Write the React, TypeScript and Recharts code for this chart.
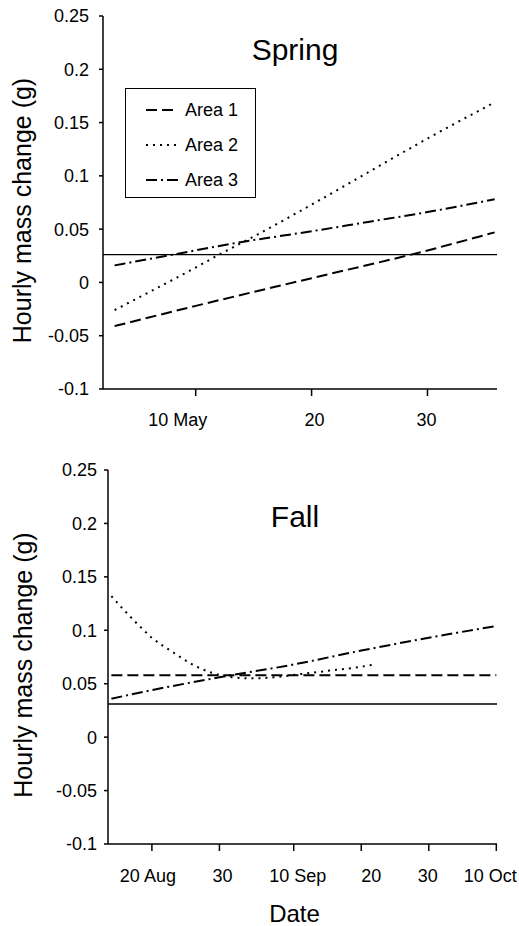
import React from "react";
import { LineChart, Line, XAxis, YAxis, ReferenceLine, Legend, Label } from "recharts";

const FONT = "'Liberation Sans', Arial, sans-serif";

const yTicks = [-0.1, -0.05, 0, 0.05, 0.1, 0.15, 0.2, 0.25];
const seriesNames = ["Area 1", "Area 2", "Area 3"];

// spring: x = day of May
const springTickDays = [10, 20, 30];
const springTickLabels = ["10 May", "20", "30"];
const springArea1Days = [3, 10, 20, 30, 35.8];
const springArea1 = [-0.041, -0.022, 0.004, 0.03, 0.047];
const springArea2Days = [3, 6, 10, 12, 15, 20, 25, 30, 35.8];
const springArea2 = [-0.026, -0.009, 0.014, 0.026, 0.043, 0.073, 0.104, 0.135, 0.169];
const springArea3Days = [3, 8, 14, 20, 25, 30, 35.8];
const springArea3 = [0.016, 0.026, 0.038, 0.048, 0.057, 0.066, 0.078];
const springThreshold = 0.026;

// fall: x = days since 31 Jul
const fallTickDays = [20, 30, 41, 51, 61, 71];
const fallTickLabels = ["20 Aug", "30", "10 Sep", "20", "30", "10 Oct"];
const fallArea1Days = [14, 71];
const fallArea1 = [0.058, 0.058];
const fallArea2Days = [14, 16, 18, 20, 23, 26, 29, 32, 35, 38, 42, 46, 50, 53];
const fallArea2 = [0.132, 0.118, 0.105, 0.093, 0.08, 0.068, 0.06, 0.056, 0.055, 0.056, 0.059, 0.062, 0.065, 0.068];
const fallArea3Days = [14, 20, 30, 41, 51, 61, 71];
const fallArea3 = [0.036, 0.044, 0.056, 0.068, 0.081, 0.093, 0.104];
const fallThreshold = 0.031;

// styling
const dashes = ["11 5", "2 5", "11 4 2 4"];
const springLabelNudge = [-18, 3, -1];
const fallLabelNudge = [-4, 3, 4, 10, -1, -6];

const toPoints = (xs: number[], ys: number[]) => xs.map((x, i) => ({ x, v: ys[i] }));

function LegendBox() {
  return (
    <div
      style={{
        width: 129,
        height: 108,
        border: "1.5px solid #000",
        background: "#fff",
        fontFamily: FONT,
        fontSize: 18,
        color: "#000",
        position: "relative",
      }}
    >
      {seriesNames.map((name, i) => (
        <div
          key={name}
          style={{
            position: "absolute",
            left: 20,
            top: 8 + i * 35,
            height: 26,
            display: "flex",
            alignItems: "center",
          }}
        >
          <svg width={32} height={4}>
            <line x1={0} y1={2} x2={32} y2={2} stroke="#000" strokeWidth={2} strokeDasharray={dashes[i]} />
          </svg>
          <span style={{ marginLeft: 7 }}>{name}</span>
        </div>
      ))}
    </div>
  );
}

function DateTick(props: any) {
  const { x, y, payload, days, labels, nudge } = props;
  const i = days.indexOf(payload.value);
  return (
    <text
      x={x + (nudge[i] ?? 0)}
      y={y}
      dy="0.71em"
      textAnchor="middle"
      fill="#000"
      fontSize={18}
      fontFamily={FONT}
    >
      {labels[i]}
    </text>
  );
}

interface PanelProps {
  title: string;
  height: number;
  top: number;
  marginTop: number;
  titleTop: number;
  yAxisWidth: number;
  xAxisHeight: number;
  domain: [number, number];
  tickDays: number[];
  tickLabels: string[];
  nudge: number[];
  series: { days: number[]; values: number[] }[];
  threshold: number;
  showLegend?: boolean;
  xTitle?: string;
  yTickMargin: number;
  xTickMargin: number;
  labelDx: number;
}

function Panel(p: PanelProps) {
  return (
    <div style={{ position: "absolute", left: 0, top: p.top, width: 519, height: p.height }}>
      <LineChart width={519} height={p.height} margin={{ top: p.marginTop, right: 22, bottom: 0, left: 0 }}>
        <XAxis
          dataKey="x"
          type="number"
          domain={p.domain}
          ticks={p.tickDays}
          interval={0}
          height={p.xAxisHeight}
          allowDataOverflow
          stroke="#000"
          strokeWidth={1.5}
          tickSize={7}
          tickMargin={p.xTickMargin}
          tick={(tp: any) => (
            <DateTick {...tp} days={p.tickDays} labels={p.tickLabels} nudge={p.nudge} />
          )}
        >
          {p.xTitle && (
            <Label
              value={p.xTitle}
              position="center"
              dx={-8}
              dy={28}
              style={{ fontSize: 24, fill: "#000", fontFamily: FONT }}
            />
          )}
        </XAxis>
        <YAxis
          type="number"
          domain={[-0.1, 0.25]}
          ticks={yTicks}
          interval={0}
          width={p.yAxisWidth}
          stroke="#000"
          strokeWidth={1.5}
          tickSize={4}
          tickMargin={p.yTickMargin}
          tick={{ fill: "#000", fontSize: 18, fontFamily: FONT }}
        >
          <Label
            value="Hourly mass change (g)"
            angle={-90}
            position="center"
            dx={p.labelDx}
            dy={8}
            style={{ fontSize: 25, fill: "#000", fontFamily: FONT, textAnchor: "middle" }}
          />
        </YAxis>
        <ReferenceLine y={p.threshold} stroke="#000" strokeWidth={1.3} />
        {p.series.map((s, i) => (
          <Line
            key={seriesNames[i]}
            name={seriesNames[i]}
            data={toPoints(s.days, s.values)}
            dataKey="v"
            type="monotone"
            stroke="#000"
            strokeWidth={2}
            strokeDasharray={dashes[i]}
            dot={false}
            activeDot={false}
            isAnimationActive={false}
          />
        ))}
        {p.showLegend && (
          <Legend
            layout="vertical"
            align="center"
            verticalAlign="middle"
            wrapperStyle={{ left: 125, top: 88, width: 131, height: 110 }}
            content={() => <LegendBox />}
          />
        )}
      </LineChart>
      <div
        style={{
          position: "absolute",
          left: 0,
          width: 590,
          top: p.titleTop,
          textAlign: "center",
          fontFamily: FONT,
          fontSize: 30,
          lineHeight: "30px",
          color: "#000",
          pointerEvents: "none",
        }}
      >
        {p.title}
      </div>
    </div>
  );
}

export default function App() {
  return (
    <div style={{ position: "absolute", left: 0, top: 0, width: 519, height: 926, background: "#fff" }}>
      <Panel
        title="Spring"
        height={460}
        top={0}
        marginTop={16}
        titleTop={35}
        yAxisWidth={103}
        xAxisHeight={71}
        domain={[2, 36]}
        tickDays={springTickDays}
        tickLabels={springTickLabels}
        nudge={springLabelNudge}
        series={[
          { days: springArea1Days, values: springArea1 },
          { days: springArea2Days, values: springArea2 },
          { days: springArea3Days, values: springArea3 },
        ]}
        threshold={springThreshold}
        showLegend
        yTickMargin={10}
        xTickMargin={17}
        labelDx={-29.5}
      />
      <Panel
        title="Fall"
        height={466}
        top={460}
        marginTop={10}
        titleTop={42}
        yAxisWidth={108}
        xAxisHeight={82}
        domain={[13.5, 71.1]}
        tickDays={fallTickDays}
        tickLabels={fallTickLabels}
        nudge={fallLabelNudge}
        series={[
          { days: fallArea1Days, values: fallArea1 },
          { days: fallArea2Days, values: fallArea2 },
          { days: fallArea3Days, values: fallArea3 },
        ]}
        threshold={fallThreshold}
        xTitle="Date"
        yTickMargin={7}
        xTickMargin={18}
        labelDx={-31}
      />
    </div>
  );
}
